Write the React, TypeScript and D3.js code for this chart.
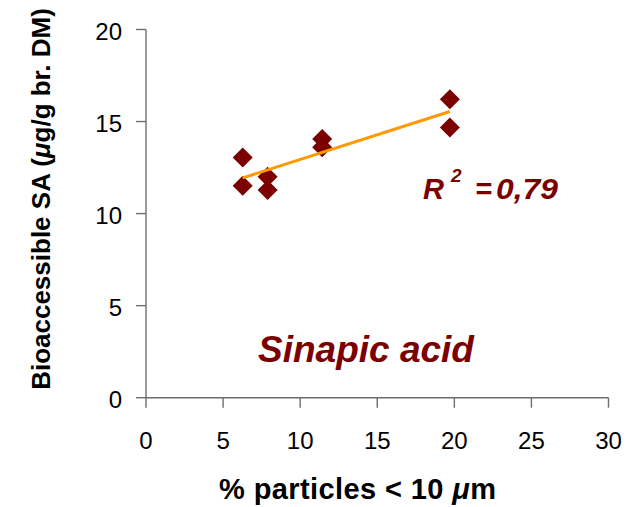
import React from "react";
import * as d3 from "d3";

const xValues = [6.27, 6.27, 7.89, 7.89, 11.43, 11.43, 19.71, 19.71];
const yValues = [13.05, 11.51, 12.0, 11.28, 14.05, 13.6, 16.21, 14.68];
const xTicks = [0, 5, 10, 15, 20, 25, 30];
const yTicks = [0, 5, 10, 15, 20];
const r2Label = "0,79";
const seriesTitle = "Sinapic acid";

const W = 639;
const H = 507;
const FONT = "'Liberation Sans', Arial, Helvetica, sans-serif";
const DARK_RED = "#7b0000";
const AXIS = "#6e6e6e";

export default function App() {
  const x = d3.scaleLinear().domain([0, 30]).range([146, 608.5]);
  const y = d3.scaleLinear().domain([0, 20]).range([397.7, 29.5]);

  const points = xValues.map((v, i) => ({ x: v, y: yValues[i] }));
  const mx = d3.mean(xValues) as number;
  const my = d3.mean(yValues) as number;
  const sxy = d3.sum(points, (p) => (p.x - mx) * (p.y - my));
  const sxx = d3.sum(points, (p) => (p.x - mx) * (p.x - mx));
  const slope = sxy / sxx;
  const intercept = my - slope * mx;
  const [x0, x1] = d3.extent(xValues) as [number, number];
  const trend = d3.line<number>().x((v) => x(v)).y((v) => y(intercept + slope * v));

  const diamond = d3.symbol().type(d3.symbolSquare).size(200)() as string;

  return (
    <div style={{ position: "absolute", left: 0, top: 0 }}>
      <svg width={W} height={H} style={{ display: "block", background: "#fff" }} fontFamily={FONT}>
        {/* axes */}
        <line x1={x(0)} x2={x(30)} y1={y(0)} y2={y(0)} stroke={AXIS} strokeWidth={1.4} />
        <line x1={x(0)} x2={x(0)} y1={y(0)} y2={y(20)} stroke={AXIS} strokeWidth={1.4} />
        {xTicks.map((t) => (
          <g key={"xt" + t}>
            <line x1={x(t)} x2={x(t)} y1={y(0)} y2={y(0) + 10} stroke={AXIS} strokeWidth={1.4} />
            <text x={x(t)} y={449} textAnchor="middle" fontSize={24} fill="#000">
              {t}
            </text>
          </g>
        ))}
        {yTicks.map((t) => (
          <g key={"yt" + t}>
            <line x1={x(0) - 10} x2={x(0)} y1={y(t)} y2={y(t)} stroke={AXIS} strokeWidth={1.4} />
            <text x={122} y={y(t)} dy="0.42em" textAnchor="end" fontSize={24} fill="#000">
              {t}
            </text>
          </g>
        ))}

        {/* points */}
        {points.map((p, i) => (
          <path
            key={"p" + i}
            d={diamond}
            transform={`translate(${x(p.x)},${y(p.y)}) rotate(45)`}
            fill={DARK_RED}
          />
        ))}

        {/* trendline */}
        <path d={trend([x0, x1]) as string} stroke="#ff9900" strokeWidth={3} fill="none" />

        {/* R² */}
        <g fontWeight="bold" fontStyle="italic" fill={DARK_RED}>
          <text x={423} y={198.5} fontSize={29}>R</text>
          <text x={451} y={181.5} fontSize={19}>2</text>
          <text x={475} y={198.5} fontSize={29}>=</text>
          <text x={496} y={198.5} fontSize={29} textLength={62} lengthAdjust="spacingAndGlyphs">
            {r2Label}
          </text>
        </g>

        {/* series title */}
        <text x={366} y={362} textAnchor="middle" fontSize={37} fontWeight="bold" fontStyle="italic" fill={DARK_RED}>
          {seriesTitle}
        </text>

        {/* axis titles */}
        <text x={219} y={499} fontSize={29} fontWeight="bold" fill="#000" textLength={277} lengthAdjust="spacing">
          % particles &lt; 10 <tspan fontStyle="italic">μ</tspan>m
        </text>
        <text
          transform="translate(50,199) rotate(-90)"
          textAnchor="middle"
          fontSize={26}
          fontWeight="bold"
          fill="#000"
        >
          Bioaccessible SA (<tspan fontStyle="italic">μ</tspan>g/g br. DM)
        </text>
      </svg>
    </div>
  );
}
